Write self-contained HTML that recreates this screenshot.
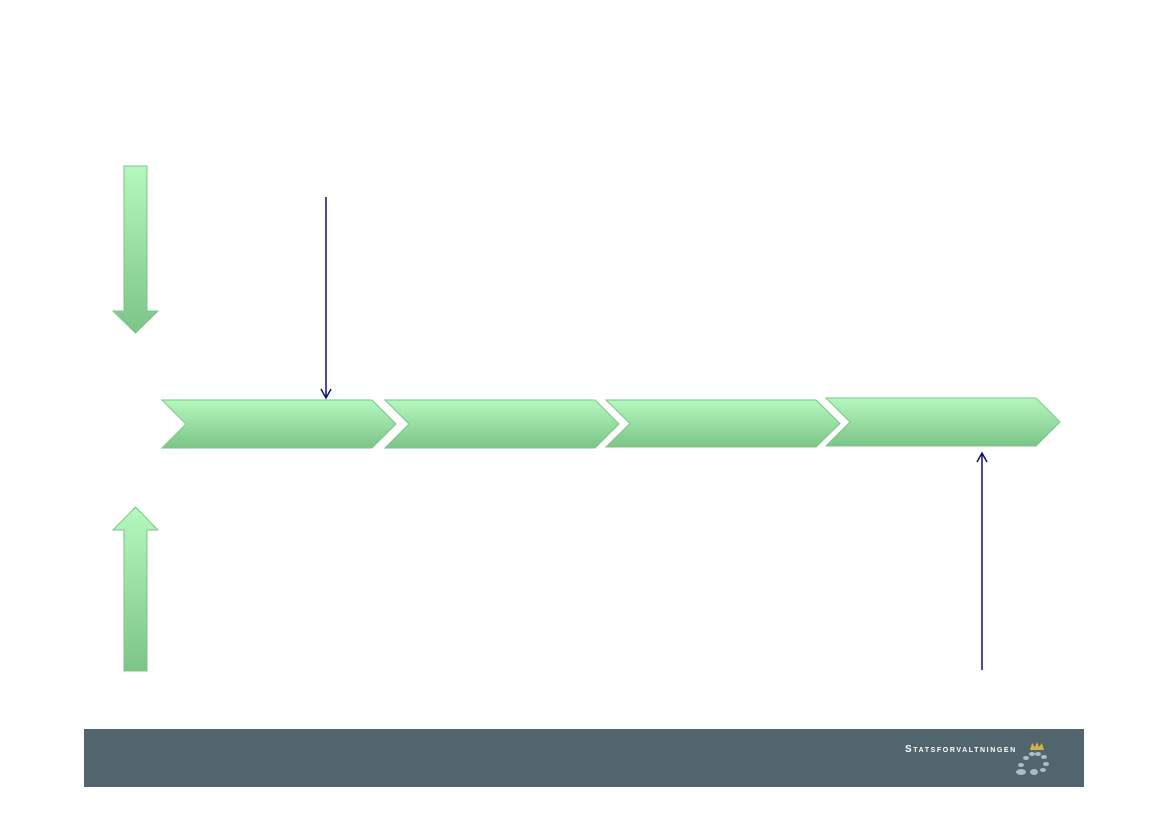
<!DOCTYPE html>
<html><head><style>
body{margin:0;width:1169px;height:826px;background:#fff;position:relative;overflow:hidden}
.f{position:absolute;left:84px;top:729px;width:1000px;height:58px;background:#52646e}
.t{position:absolute;left:905px;top:744px;color:#fff;font:bold 10px "Liberation Sans",sans-serif;letter-spacing:1.6px;font-variant:small-caps}
</style></head><body>
<svg width="1169" height="826" style="position:absolute;left:0;top:0">
<defs><linearGradient id="g" x1="0" y1="0" x2="0" y2="1"><stop offset="0" stop-color="#b4f8bd"/><stop offset="1" stop-color="#7dc488"/></linearGradient></defs>
<g fill="url(#g)" stroke="#7cc487" stroke-width="1">
<path d="M124 166H147V311H158L135.5 333L113 311H124Z"/>
<path d="M124 671H147V530H158L135.5 507L113 530H124Z"/>
<path d="M162 400H372L396 424L372 448H162L186 424Z"/>
<path d="M385 400H595L619 424L595 448H385L409 424Z"/>
<path d="M606 400H816L840 423.5L816 447H606L630 423.5Z"/>
<path d="M826 398H1036L1060 422L1036 446H826L850 422Z"/>
</g>
<g stroke="#10107a" stroke-width="1.5" fill="none">
<path d="M326 197V398M321 389L326 398L331 389"/>
<path d="M982 670V453M977 462L982 453L987 462"/>
</g>
</svg>
<div class="f"></div>
<div class="t">Statsforvaltningen</div>
<svg width="60" height="50" style="position:absolute;left:1005px;top:740px">
<path d="M25 10L27 3L30 7L32 2L34 7L37 3L39 10Z" fill="#d4b24a"/>
<g fill="#aebcc6"><ellipse cx="21" cy="18" rx="3" ry="2"/><ellipse cx="27" cy="14" rx="3" ry="2"/><ellipse cx="33" cy="14" rx="3" ry="2"/><ellipse cx="39" cy="17" rx="3" ry="2"/><ellipse cx="41" cy="24" rx="3" ry="2"/><ellipse cx="16" cy="25" rx="3" ry="2"/><ellipse cx="16" cy="32" rx="5" ry="3"/><ellipse cx="29" cy="32" rx="4" ry="3"/><ellipse cx="38" cy="30" rx="3" ry="2"/></g>
</svg>
</body></html>
